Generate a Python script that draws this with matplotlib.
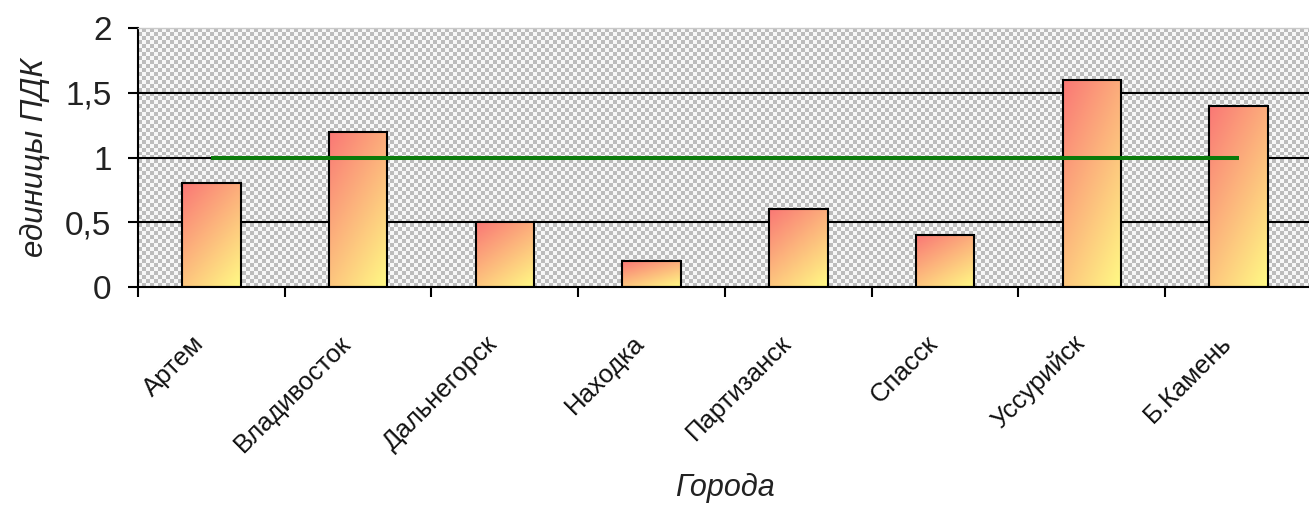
import numpy as np
import matplotlib
matplotlib.use('Agg')
import matplotlib.pyplot as plt
from matplotlib.transforms import ScaledTranslation

plt.rcParams['font.family'] = ['Liberation Sans', 'DejaVu Sans']

# data
cities = ['Артем', 'Владивосток', 'Дальнегорск', 'Находка',
          'Партизанск', 'Спасск', 'Уссурийск', 'Б.Камень']
values = [0.8, 1.2, 0.5, 0.2, 0.6, 0.4, 1.6, 1.4]
pdk_norm = [1, 1, 1, 1, 1, 1, 1, 1]
y_ticks = [0, 0.5, 1, 1.5, 2]
y_tick_labels = ['0', '0,5', '1', '1,5', '2']

fig = plt.figure(figsize=(13.09, 5.08), dpi=100)
ax = fig.add_axes([138 / 1309, 221 / 508, 1174 / 1309, 259 / 508])

x = np.arange(len(cities))
ax.set_xlim(-0.5, len(cities) - 0.5)
ax.set_ylim(0, 2)

# checkered grey background like the excel pattern fill
ny, nx = 65, 294
checker = (np.add.outer(np.arange(ny), np.arange(nx)) % 2).astype(float)
bg = np.where(checker[..., None] == 1, [0.74, 0.74, 0.74], [0.97, 0.97, 0.97])
ax.imshow(bg, extent=[-0.5, len(cities) - 0.5, 0, 2], aspect='auto',
          interpolation='nearest', zorder=0)

# grid lines
for t in y_ticks[1:-1]:
    ax.axhline(t, color='black', lw=1.5, zorder=1)

# bars with diagonal red -> yellow gradient
width = 0.4
red = np.array([0.98, 0.47, 0.46])
yellow = np.array([1.0, 0.98, 0.52])
gy, gx = np.mgrid[0:1:60j, 0:1:30j]
t = 0.4 * gx + 0.6 * gy
grad = red * (1 - t[..., None]) + yellow * t[..., None]
bars = ax.bar(x, values, width=width, facecolor='none', edgecolor='black',
              linewidth=1.5, zorder=3)
for b in bars:
    x0, w, h = b.get_x(), b.get_width(), b.get_height()
    im = ax.imshow(grad, extent=[x0, x0 + w, 0, h], aspect='auto',
                   interpolation='bilinear', zorder=2)
    im.set_clip_path(b)

# norm line
ax.plot(x, pdk_norm, color='#0a7a0a', lw=2.9, zorder=4, solid_capstyle='butt')

ax.set_xlim(-0.5, len(cities) - 0.5)
ax.set_ylim(0, 2)

# axes
ax.spines['right'].set_visible(False)
ax.spines['top'].set_color('#c8c8c8')
ax.spines['top'].set_linewidth(1)
ax.spines['left'].set_linewidth(1.5)
ax.spines['bottom'].set_linewidth(1.5)

ax.set_yticks(y_ticks)
ax.set_yticklabels(y_tick_labels, fontsize=24, color='#222222')
ax.tick_params(axis='y', length=7, width=1.5, pad=12)

ax.set_xticks(x)
ax.set_xticklabels(cities, rotation=45, ha='right', va='center',
                   rotation_mode='anchor', fontsize=18.5, color='#111111')
ax.set_xticks(np.arange(-0.5, len(cities), 1), minor=True)
ax.tick_params(axis='x', which='major', length=0, pad=38)
ax.tick_params(axis='x', which='minor', length=7, width=1.5)
for lab in ax.get_xticklabels():
    lab.set_transform(lab.get_transform() + ScaledTranslation(-0.11, 0, fig.dpi_scale_trans))

ax.set_ylabel('единицы ПДК', fontsize=22.5, style='italic', color='#222222', va='center')
ax.yaxis.set_label_coords(-0.088, 0.5)
ax.set_xlabel('Города', fontsize=22, style='italic', color='#222222', va='center')
ax.xaxis.set_label_coords(0.5, -0.776)

fig.savefig('out.png', dpi=100)
